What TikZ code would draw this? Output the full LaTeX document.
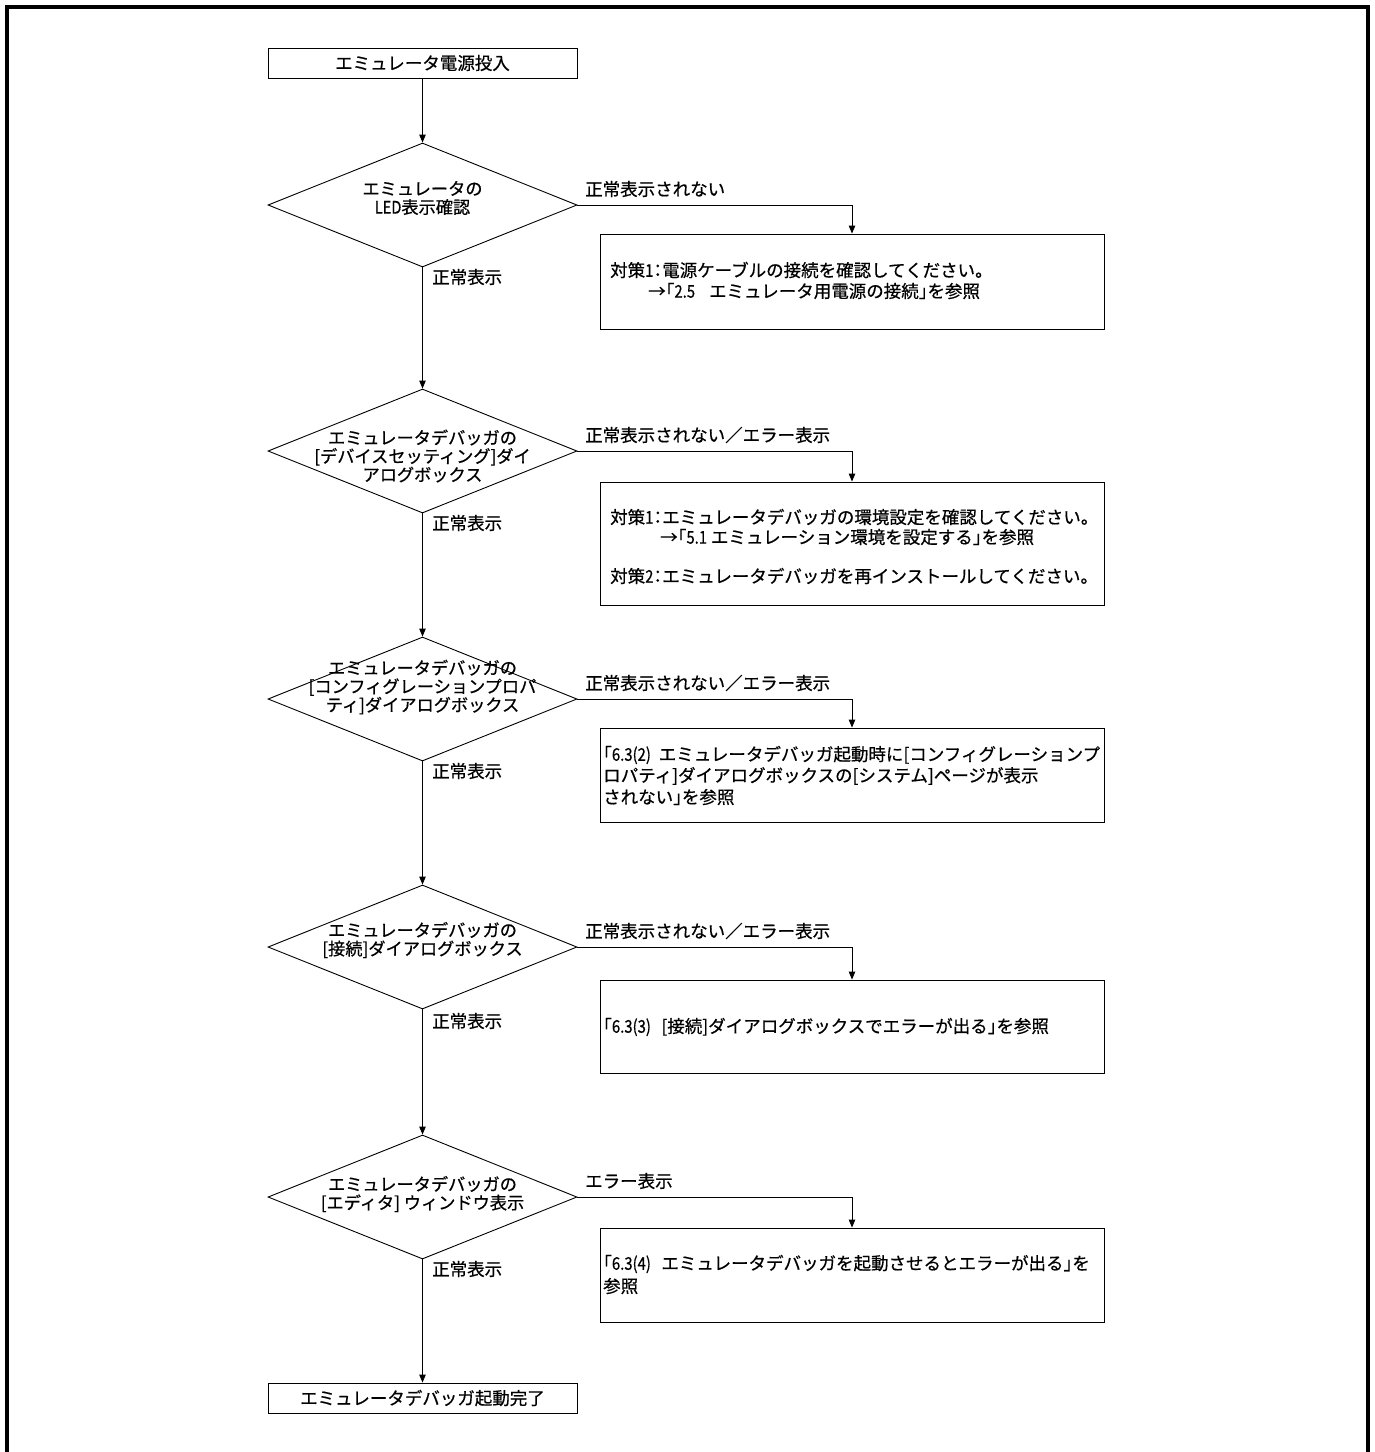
\documentclass[tikz,border=0pt]{standalone}
\usepackage{fontspec}
\setmainfont[FakeBold=0.6]{Noto Sans CJK JP}
\newfontfamily\hwfont[RawFeature=+halt,FakeBold=0.6]{Noto Sans CJK JP}
\newcommand{\kakkoL}{{\hwfont 「}}
\newcommand{\kakkoR}{{\hwfont 」}}
\newcommand{\hcolon}{{\hwfont ：}}
\newcommand{\nrw}[1]{\scalebox{0.85}[1]{#1}}
\usetikzlibrary{shapes.geometric,arrows.meta}
\begin{document}
\begin{tikzpicture}[x=1pt,y=-1pt,
  every node/.style={font=\fontsize{17.5}{21}\selectfont, inner sep=0pt},
  box/.style={draw, line width=0.9pt, minimum width=309pt, minimum height=30pt},
  dia/.style={diamond, draw, line width=0.9pt, minimum width=309pt, minimum height=124pt},
  rbox/.style={draw, line width=0.9pt, minimum width=504pt},
  ttl/.style={align=center, font=\fontsize{17.2}{18.5}\selectfont},
  txt/.style={anchor=west},
  lbl/.style={anchor=west},
  arr/.style={line width=0.9pt, -{Triangle[length=8pt,width=6.5pt]}},
  frame/.style={line width=4pt, line join=miter}
]
\useasboundingbox (0,0) rectangle (1375,1452);
\draw[frame] (7,1470) -- (7,7) -- (1368,7) -- (1368,1470);

% main column
\node[box] (s) at (422.5,63) {エミュレータ電源投入};
\node[dia] (d1) at (422.5,205) {};
\node[dia] (d2) at (422.5,451) {};
\node[dia] (d3) at (422.5,699) {};
\node[dia] (d4) at (422.5,947) {};
\node[dia] (d5) at (422.5,1197) {};
\node[box] (e) at (422.5,1398) {エミュレータデバッガ起動完了};

\node[ttl] (t1) at (422.5,198) {エミュレータの\\\nrw{LED}表示確認};
\node[ttl] (t2) at (422.5,456) {エミュレータデバッガの\\{[}デバイスセッティング]ダイ\\アログボックス};
\node[ttl] (t3) at (422.5,687) {エミュレータデバッガの\\{[}コンフィグレーションプロパ\\ティ]ダイアログボックス};
\node[ttl] (t4) at (422.5,940) {エミュレータデバッガの\\{[}接続]ダイアログボックス};
\node[ttl] (t5) at (422.5,1194) {エミュレータデバッガの\\{[}エディタ] ウィンドウ表示};

% right boxes
\node[rbox, minimum height=95pt] (r1) at (852,281.5) {};
\node[rbox, minimum height=123pt] (r2) at (852,543.5) {};
\node[rbox, minimum height=94pt] (r3) at (852,775) {};
\node[rbox, minimum height=93pt] (r4) at (852,1026.5) {};
\node[rbox, minimum height=94pt] (r5) at (852,1275) {};

\node[txt] (r1a) at (610,270) {対策\nrw{1}\hcolon 電源ケーブルの接続を確認してください。};
\node[txt] (r1b) at (648,291) {→\kakkoL\nrw{2.5}\hspace{0.8em}エミュレータ用電源の接続\kakkoR を参照};

\node[txt] (r2a) at (610,517) {対策\nrw{1}\hcolon エミュレータデバッガの環境設定を確認してください。};
\node[txt] (r2b) at (660,537) {→\kakkoL\nrw{5.1} エミュレーション環境を設定する\kakkoR を参照};
\node[txt] (r2c) at (610,576) {対策\nrw{2}\hcolon エミュレータデバッガを再インストールしてください。};

\node[txt] (r3a) at (603,755) {\kakkoL\nrw{6.3(2)}\hspace{0.45em}エミュレータデバッガ起動時に[コンフィグレーションプ};
\node[txt] (r3b) at (603,776) {ロパティ]ダイアログボックスの[システム]ページが表示};
\node[txt] (r3c) at (603,797) {されない\kakkoR を参照};

\node[txt] (r4a) at (603,1027) {\kakkoL\nrw{6.3(3)}\hspace{0.6em}[接続]ダイアログボックスでエラーが出る\kakkoR を参照};

\node[txt] (r5a) at (603,1264) {\kakkoL\nrw{6.3(4)}\hspace{0.6em}エミュレータデバッガを起動させるとエラーが出る\kakkoR を};
\node[txt] (r5b) at (603,1286) {参照};

% labels
\node[lbl] (l1) at (585,189) {正常表示されない};
\node[lbl] (l2) at (585,435) {正常表示されない／エラー表示};
\node[lbl] (l3) at (585,683) {正常表示されない／エラー表示};
\node[lbl] (l4) at (585,931) {正常表示されない／エラー表示};
\node[lbl] (l5) at (585,1181) {エラー表示};

\node[lbl] (n1) at (432,277) {正常表示};
\node[lbl] (n2) at (432,523) {正常表示};
\node[lbl] (n3) at (432,771) {正常表示};
\node[lbl] (n4) at (432,1021) {正常表示};
\node[lbl] (n5) at (432,1269) {正常表示};

% connectors
\draw[arr] (s.south) -- (d1.north);
\draw[arr] (d1.south) -- (d2.north);
\draw[arr] (d2.south) -- (d3.north);
\draw[arr] (d3.south) -- (d4.north);
\draw[arr] (d4.south) -- (d5.north);
\draw[arr] (d5.south) -- (e.north);

\draw[arr] (d1.east) -| (r1.north);
\draw[arr] (d2.east) -| (r2.north);
\draw[arr] (d3.east) -| (r3.north);
\draw[arr] (d4.east) -| (r4.north);
\draw[arr] (d5.east) -| (r5.north);
\end{tikzpicture}
\end{document}
